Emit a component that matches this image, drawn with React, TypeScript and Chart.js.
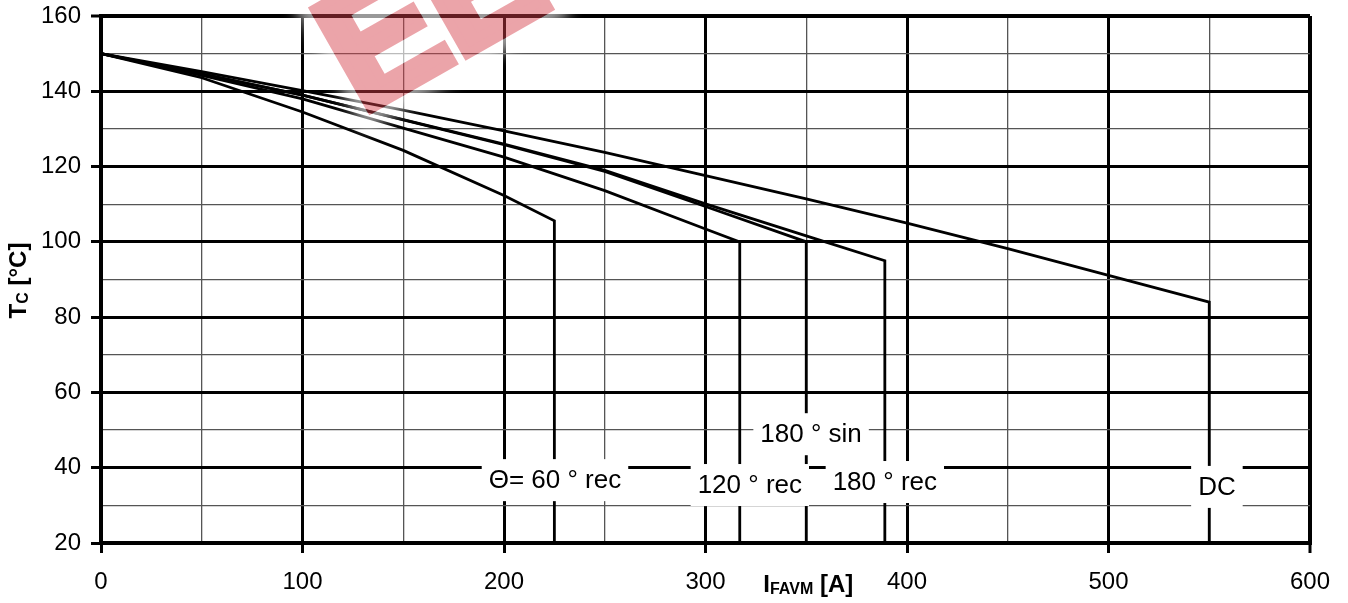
import React, { useEffect, useRef } from "react";
import { Chart, registerables } from "chart.js";

Chart.register(...registerables);

// ---- data ----
const seriesNames = ["DC", "180 ° rec", "180 ° sin", "120 ° rec", "60 ° rec"];

const dcCurrent = [0, 50, 100, 150, 200, 250, 300, 350, 400, 450, 500, 550, 550];
const dcTemp = [150, 145.2, 140.2, 135, 129.5, 123.8, 117.6, 111.4, 105, 98.2, 91.1, 84, 20];

const rec180Current = [0, 50, 100, 150, 200, 250, 300, 350, 389, 389];
const rec180Temp = [150, 144.6, 139, 132.5, 126, 119, 110.1, 101.6, 95, 20];

const sin180Current = [0, 50, 100, 150, 200, 250, 300, 350, 350];
const sin180Temp = [150, 144.6, 139, 132.4, 125.8, 118.7, 109.4, 100, 20];

const rec120Current = [0, 50, 100, 150, 200, 250, 300, 317, 317];
const rec120Temp = [150, 144.2, 138, 130.2, 122.5, 113.6, 103.4, 100, 20];

const rec60Current = [0, 50, 100, 150, 200, 225, 225];
const rec60Temp = [150, 143.6, 134.5, 124.3, 112.3, 105.6, 20];

const labelTexts = ["Θ= 60 ° rec", "120 ° rec", "180 ° sin", "180 ° rec", "DC"];
const labelX = [225.3, 322, 352.4, 389, 553.8];
const labelY = [36.7, 35.4, 48.9, 36.2, 34.9];

const xTickLabels = [0, 100, 200, 300, 400, 500, 600];
const yTickLabels = [20, 40, 60, 80, 100, 120, 140, 160];

const watermarkText = "EE";

const FONT = '"Liberation Sans", Arial, Helvetica, sans-serif';

function zip(xs: number[], ys: number[]) {
  return xs.map((v, i) => ({ x: v, y: ys[i] }));
}

function drawWatermark(ctx: CanvasRenderingContext2D, W: number, H: number) {
  const ang = (-29.6 * Math.PI) / 180;
  const ox = 361.4;
  const oy = 114.1;
  const font = `bold 166px ${FONT}`;
  const shape = (c: CanvasRenderingContext2D, lw: number) => {
    c.save();
    c.translate(ox, oy);
    c.rotate(ang);
    c.font = font;
    c.textBaseline = "alphabetic";
    c.lineJoin = "miter";
    c.lineWidth = lw;
    c.fillText(watermarkText, 0, 0);
    c.strokeText(watermarkText, 0, 0);
    c.restore();
  };
  // halo
  const halo = document.createElement("canvas");
  halo.width = W;
  halo.height = H;
  const h = halo.getContext("2d")!;
  h.filter = "blur(7px)";
  h.fillStyle = "#fff";
  h.strokeStyle = "#fff";
  shape(h, 34);
  h.filter = "none";
  h.globalCompositeOperation = "destination-out";
  h.fillStyle = "#000";
  h.strokeStyle = "#000";
  shape(h, 10);
  // red letters
  const red = document.createElement("canvas");
  red.width = W;
  red.height = H;
  const r = red.getContext("2d")!;
  r.fillStyle = "rgb(213,62,74)";
  r.strokeStyle = "rgb(213,62,74)";
  shape(r, 10);

  ctx.save();
  ctx.globalAlpha = 0.6;
  ctx.drawImage(halo, 0, 0);
  ctx.globalAlpha = 0.47;
  ctx.drawImage(red, 0, 0);
  ctx.restore();
}

const overlayPlugin = {
  id: "overlay",
  afterDatasetsDraw(chart: any) {
    const { ctx, scales } = chart;
    const xs = scales.x;
    const ys = scales.y;
    ctx.save();
    ctx.font = `26px ${FONT}`;
    ctx.textAlign = "center";
    ctx.textBaseline = "middle";
    labelTexts.forEach((t, i) => {
      const px = xs.getPixelForValue(labelX[i]);
      const py = ys.getPixelForValue(labelY[i]);
      const w = ctx.measureText(t).width + 14;
      ctx.fillStyle = "#ffffff";
      ctx.fillRect(px - w / 2, py - 21, w, 42);
      ctx.fillStyle = "#000000";
      ctx.fillText(t, px, py + 1);
    });
    ctx.restore();
  },
  afterDraw(chart: any) {
    const { ctx, chartArea, scales } = chart;
    ctx.save();
    ctx.fillStyle = "#000";
    ctx.textBaseline = "alphabetic";
    ctx.textAlign = "left";
    const main = `bold 24px ${FONT}`;
    const sub = `bold 16px ${FONT}`;
    // X title: I_FAVM [A]
    {
      ctx.font = main;
      const w1 = ctx.measureText("I").width;
      const w3 = ctx.measureText(" [A]").width;
      ctx.font = sub;
      const w2 = ctx.measureText("FAVM").width;
      const total = w1 + w2 + w3;
      let x0 = scales.x.getPixelForValue(350) - total / 2 + 2;
      const base = 592;
      ctx.font = main;
      ctx.fillText("I", x0, base);
      x0 += w1;
      ctx.font = sub;
      ctx.fillText("FAVM", x0, base + 2);
      x0 += w2;
      ctx.font = main;
      ctx.fillText(" [A]", x0, base);
    }
    // Y title: T_C [°C]
    {
      ctx.font = main;
      const w1 = ctx.measureText("T").width;
      const w3 = ctx.measureText(" [°C]").width;
      ctx.font = sub;
      const w2 = ctx.measureText("C").width;
      const total = w1 + w2 + w3;
      const cy = (chartArea.top + chartArea.bottom) / 2 + 1;
      ctx.translate(26, cy);
      ctx.rotate(-Math.PI / 2);
      let x0 = -total / 2;
      ctx.font = main;
      ctx.fillText("T", x0, 0);
      x0 += w1;
      ctx.font = sub;
      ctx.fillText("C", x0, 2);
      x0 += w2;
      ctx.font = main;
      ctx.fillText(" [°C]", x0, 0);
    }
    ctx.restore();

    drawWatermark(ctx, chart.width, chart.height);
  },
};

export default function App() {
  const ref = useRef<HTMLCanvasElement | null>(null);

  useEffect(() => {
    if (!ref.current) return;
    const mk = (xs: number[], ys: number[], name: string) => ({
      label: name,
      data: zip(xs, ys),
      borderColor: "#000",
      borderWidth: 2.8,
      pointRadius: 0,
      fill: false,
      tension: 0,
    });
    const isMajorX = (v: number) => xTickLabels.includes(v);
    const isMajorY = (v: number) => yTickLabels.includes(v);
    const chart = new Chart(ref.current, {
      type: "line",
      data: {
        datasets: [
          mk(dcCurrent, dcTemp, seriesNames[0]),
          mk(rec180Current, rec180Temp, seriesNames[1]),
          mk(sin180Current, sin180Temp, seriesNames[2]),
          mk(rec120Current, rec120Temp, seriesNames[3]),
          mk(rec60Current, rec60Temp, seriesNames[4]),
        ],
      },
      options: {
        animation: false,
        responsive: false,
        devicePixelRatio: 1,
        layout: { padding: { left: 0, right: 38, top: 16, bottom: 0 } },
        plugins: { legend: { display: false }, tooltip: { enabled: false } },
        scales: {
          x: {
            type: "linear",
            min: 0,
            max: 600,
            afterFit: (s: any) => {
              s.height = 60;
              s.paddingLeft = 0;
              s.paddingRight = 0;
            },
            ticks: {
              stepSize: 50,
              autoSkip: false,
              maxRotation: 0,
              padding: 15,
              color: "#000",
              font: { family: FONT, size: 24 },
              callback: (v: any) => (isMajorX(Number(v)) ? String(v) : ""),
            },
            grid: {
              color: (c: any) => (isMajorX(c.tick?.value) ? "#000" : "#555"),
              lineWidth: (c: any) =>
                c.tick?.value === 600 ? 4 : isMajorX(c.tick?.value) ? 3 : 1.3,
              tickLength: 10,
              tickColor: (c: any) => (isMajorX(c.tick?.value) ? "#000" : "rgba(0,0,0,0)"),
              tickWidth: 3,
            },
            border: { display: true, color: "#000", width: 4 },
          },
          y: {
            type: "linear",
            min: 20,
            max: 160,
            afterFit: (s: any) => {
              s.width = 101;
              s.paddingTop = 0;
              s.paddingBottom = 0;
            },
            ticks: {
              stepSize: 10,
              autoSkip: false,
              padding: 10,
              color: "#000",
              font: { family: FONT, size: 24 },
              callback: (v: any) => (isMajorY(Number(v)) ? String(v) : ""),
            },
            grid: {
              color: (c: any) => (isMajorY(c.tick?.value) ? "#000" : "#555"),
              lineWidth: (c: any) =>
                c.tick?.value === 160 ? 4 : isMajorY(c.tick?.value) ? 3 : 1.3,
              tickLength: 10,
              tickColor: (c: any) => (isMajorY(c.tick?.value) ? "#000" : "rgba(0,0,0,0)"),
              tickWidth: 3,
            },
            border: { display: true, color: "#000", width: 4 },
          },
        },
      },
      plugins: [overlayPlugin],
    });
    return () => chart.destroy();
  }, []);

  return (
    <div style={{ position: "fixed", left: 0, top: 0, width: 1348, height: 603, background: "#fff" }}>
      <canvas ref={ref} width={1348} height={603} style={{ display: "block" }} />
    </div>
  );
}
